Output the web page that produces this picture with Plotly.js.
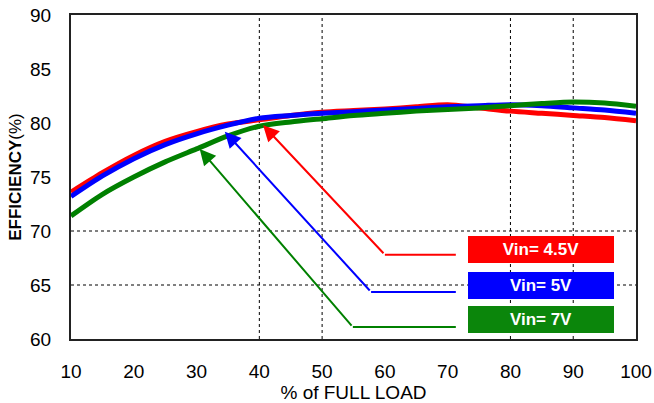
<!DOCTYPE html>
<html>
<head>
<meta charset="utf-8">
<script src="https://cdn.plot.ly/plotly-3.0.1.min.js"></script>
<style>html,body{margin:0;padding:0;background:#fff;}#chart{width:654px;height:403px;}</style>
</head>
<body>
<div id="chart"></div>
<script>
// ---- data ----
const load = [10,15,20,25,30,35,40,45,50,55,60,65,70,75,80,85,90,95,100];
const eff45 = [73.6,75.4,77.0,78.3,79.2,79.9,80.3,80.7,81.0,81.15,81.3,81.5,81.7,81.4,81.1,80.9,80.7,80.5,80.2];
const eff5  = [73.2,75.1,76.7,78.0,79.0,79.8,80.45,80.7,80.9,81.05,81.2,81.35,81.5,81.6,81.7,81.6,81.4,81.2,80.9];
const eff7  = [71.4,73.4,75.0,76.4,77.6,78.8,79.7,80.1,80.4,80.7,80.9,81.1,81.25,81.4,81.6,81.8,81.95,81.85,81.55];
const seriesNames = ['Vin= 4.5V','Vin= 5V','Vin= 7V'];
const seriesColors = ['#ff0000','#0000ff','#008000'];
const boxColors = ['#ff0000','#0000ff','#0b860b'];
// arrow callouts: tip (on curve), elbow, tail end
const tipX = [40.6, 34.5, 30.5];
const tipY = [79.8, 79.2, 77.6];
const elbowX = [60.0, 57.8, 54.9];
const elbowY = [67.8, 64.35, 61.1];
const tailX = [71.3, 71.3, 71.3];
// label boxes
const labelX = [84.85, 84.85, 84.85];
const labelY = [68.3, 64.95, 61.8];
// grid lines
const gridX = [40, 50, 80, 90];
const gridY = [65, 70];
const xTicks = [10,20,30,40,50,60,70,80,90,100];
const yTicks = [60,65,70,75,80,85,90];

const effs = [eff45, eff5, eff7];
const traces = [];
effs.forEach((e,i)=>{
  traces.push({x: load, y: e, type:'scatter', mode:'lines', name: seriesNames[i],
    line:{color: seriesColors[i], width: 5, shape:'spline', smoothing:0.8}, hoverinfo:'skip'});
});
// horizontal tails of callouts
for (let i=0;i<3;i++){
  traces.push({x:[tailX[i], elbowX[i]], y:[elbowY[i], elbowY[i]], type:'scatter', mode:'lines',
    line:{color: seriesColors[i], width:2}, hoverinfo:'skip', showlegend:false});
}

const shapes = [];
gridX.forEach(g=>shapes.push({type:'line', xref:'x', yref:'y', x0:g, x1:g, y0:60, y1:90,
  line:{color:'#000', width:1, dash:'dot'}, layer:'below'}));
gridY.forEach(g=>shapes.push({type:'line', xref:'x', yref:'y', x0:10, x1:100, y0:g, y1:g,
  line:{color:'#000', width:1, dash:'dot'}, layer:'below'}));

const annotations = [];
for (let i=0;i<3;i++){
  annotations.push({x: tipX[i], y: tipY[i], ax: elbowX[i], ay: elbowY[i], axref:'x', ayref:'y',
    xref:'x', yref:'y', showarrow:true, arrowhead:2, arrowsize:1.6, arrowwidth:2,
    arrowcolor: seriesColors[i], text:''});
  annotations.push({x: labelX[i], y: labelY[i], xref:'x', yref:'y', showarrow:false,
    text:'<b>'+seriesNames[i]+'</b>', bgcolor: boxColors[i], width:142, height:23,
    borderpad:2, bordercolor: boxColors[i], borderwidth:0,
    font:{family:'Liberation Sans, Arial, sans-serif', size:17, color:'#fff'}});
}

const layout = {
  width:654, height:403,
  margin:{l:71, r:18, t:15, b:64},
  paper_bgcolor:'#fff', plot_bgcolor:'#fff',
  showlegend:false,
  font:{family:'Liberation Sans, Arial, sans-serif', color:'#000', size:16},
  xaxis:{range:[10,100], tickvals:xTicks, ticktext:xTicks.map(String), showgrid:false, zeroline:false,
    showline:true, linecolor:'#222', linewidth:2, mirror:true, ticks:'', ticklabelstandoff:14,
    tickfont:{size:19}, title:{text:'% of FULL LOAD', font:{size:19}, standoff:2}},
  yaxis:{range:[60,90], tickvals:yTicks, ticktext:yTicks.map(String), showgrid:false, zeroline:false,
    showline:true, linecolor:'#222', linewidth:2, mirror:true, ticks:'', ticklabelstandoff:14,
    tickfont:{size:19}, title:{text:'<b>EFFICIENCY</b>(%)', font:{size:17}, standoff:4}},
  shapes: shapes,
  annotations: annotations
};
Plotly.newPlot('chart', traces, layout, {displayModeBar:false, staticPlot:true});
</script>
</body>
</html>
